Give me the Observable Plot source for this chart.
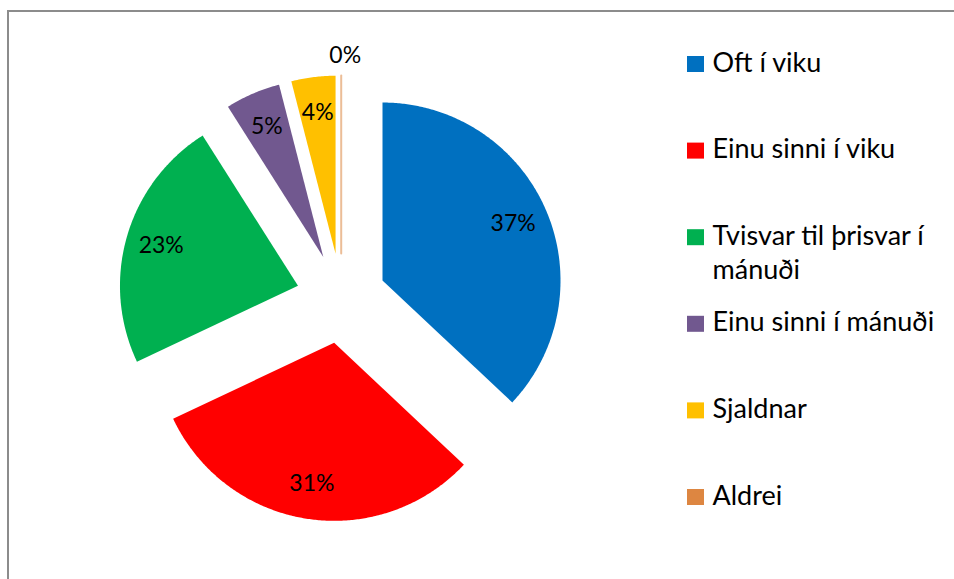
<!DOCTYPE html>
<html><head><meta charset="utf-8">
<script src="https://cdn.jsdelivr.net/npm/d3@7"></script>
<script src="https://cdn.jsdelivr.net/npm/@observablehq/plot@0.6"></script>
<style>
body{margin:0;background:#fff;}
#wrap{position:relative;width:954px;height:579px;overflow:hidden;}
#frame{position:absolute;left:7px;top:10px;width:1000px;height:1000px;border-top:2px solid #8c8c8c;border-left:2px solid #8c8c8c;pointer-events:none;box-sizing:border-box}
svg{position:absolute;left:0;top:0}
</style></head><body>
<div id="wrap"><div id="frame"></div></div>
<script>
// ---- data ----
const categories = ["Oft í viku", "Einu sinni í viku", "Tvisvar til þrisvar í mánuði", "Einu sinni í mánuði", "Sjaldnar", "Aldrei"];
const values = [37, 31, 23, 5, 4, 0];
const valueLabels = ["37%", "31%", "23%", "5%", "4%", "0%"];
const legendLabels = ["Oft í viku", "Einu sinni í viku", "Tvisvar til þrisvar í\nmánuði", "Einu sinni í mánuði", "Sjaldnar", "Aldrei"];
const colors = ["#0070C0", "#FF0000", "#00B050", "#71588F", "#FFC000", "#DD8641"];

// ---- layout ----
const W = 954, H = 579;
const R = 178, cx = 340.7, cy = 297.9;   // pie radius & centre (px)
const explode = 45 / 178;                 // explosion offset in radii
const labelR = 0.8;
const font = "Lato, 'Open Sans', sans-serif";

const total = d3.sum(values);
let acc = 0;
const slices = categories.map((c, i) => {
  const a0 = acc / total * 2 * Math.PI;
  acc += values[i];
  const a1 = acc / total * 2 * Math.PI;
  const mid = (a0 + a1) / 2;
  const ox = explode * Math.sin(mid), oy = explode * Math.cos(mid);
  return {cat: c, value: values[i], label: valueLabels[i], a0, a1, mid, ox, oy};
});

const polyPts = [];
for (const s of slices) {
  polyPts.push({cat: s.cat, value: s.value, x: s.ox, y: s.oy});
  const n = Math.max(2, Math.ceil((s.a1 - s.a0) / (Math.PI / 360)));
  for (let k = 0; k <= n; k++) {
    const t = s.a0 + (s.a1 - s.a0) * k / n;
    polyPts.push({cat: s.cat, value: s.value, x: s.ox + Math.sin(t), y: s.oy + Math.cos(t)});
  }
}

const labelPts = slices.map(s => {
  const r = s.value === 0 ? 1.11 : labelR;
  return {cat: s.cat, label: s.label, x: s.ox + r * Math.sin(s.mid), y: s.oy + r * Math.cos(s.mid), zero: s.value === 0};
});

// legend rows (px -> unit coords)
const ux = px => (px - cx) / R;
const uy = py => (cy - py) / R;
const legRow0 = 64, legStep = 86.6, sqL = 687, sqS = 17, txtL = 712;
const legend = categories.map((c, i) => {
  const yc = legRow0 + legStep * i;
  return {cat: c, text: legendLabels[i], x1: ux(sqL), x2: ux(sqL + sqS), y1: uy(yc - sqS / 2 + 0.5), y2: uy(yc + sqS / 2 - 0.5), tx: ux(txtL), ty: uy(yc)};
});

const chart = Plot.plot({
  width: W, height: H,
  margin: 0,
  style: {fontFamily: font, background: "transparent", overflow: "visible"},
  x: {domain: [ux(0), ux(W)], axis: null},
  y: {domain: [uy(H), uy(0)], axis: null},
  color: {domain: categories, range: colors},
  marks: [
    Plot.line(polyPts, {x: "x", y: "y", z: "cat", fill: "cat", stroke: "none", curve: "linear-closed"}),
    Plot.line(polyPts.filter(d => d.value === 0), {x: "x", y: "y", z: "cat", stroke: "cat", strokeWidth: 2, strokeOpacity: 0.55, curve: "linear"}),
    Plot.text(labelPts.filter(d => !d.zero), {x: "x", y: "y", text: "label", fontSize: 23, fill: "black"}),
    Plot.text(labelPts.filter(d => d.zero), {x: "x", y: "y", text: "label", fontSize: 23, fill: "black", dx: 4}),
    Plot.rect(legend, {x1: "x1", x2: "x2", y1: "y1", y2: "y2", fill: "cat"}),
    Plot.text(legend, {x: "tx", y: "ty", text: "text", textAnchor: "start", lineAnchor: "top", dy: -17, fontSize: 27, lineHeight: 1.26, fill: "black"})
  ]
});
document.getElementById("wrap").appendChild(chart);
</script>
</body></html>
